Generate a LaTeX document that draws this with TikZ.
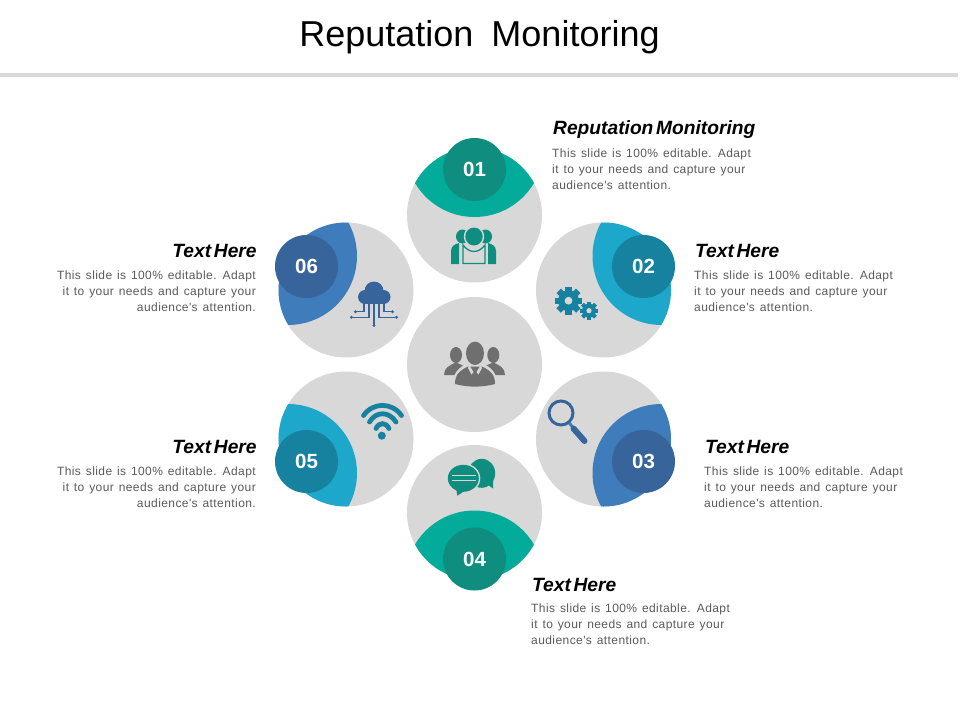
\documentclass[tikz,border=0pt]{standalone}
\usepackage{fontspec}
\setmainfont{Liberation Sans}
\newfontfamily\bodyface[LetterSpace=3.5,WordSpace=1.3]{Liberation Sans}
\newfontfamily\headface[WordSpace=0.5]{Liberation Sans}
\definecolor{gr}{HTML}{D9D8D8}
\definecolor{tealL}{HTML}{03AC9A}
\definecolor{tealN}{HTML}{0F8E80}
\definecolor{cyanL}{HTML}{1CA7CB}
\definecolor{cyanN}{HTML}{17829F}
\definecolor{blueL}{HTML}{3F7CBB}
\definecolor{blueN}{HTML}{36649B}
\definecolor{body}{HTML}{5A5A5A}
\definecolor{iconG}{HTML}{6F6F6F}
\tikzset{
 disc/.style={circle,fill=gr,minimum size=135pt,inner sep=0pt,outer sep=0pt},
 num/.style={circle,minimum size=63pt,inner sep=0pt,text=white,font=\fontsize{20.5}{20.5}\selectfont\bfseries},
 head/.style={inner sep=0pt,text=black,font=\headface\fontsize{19.2}{19.2}\selectfont\bfseries\itshape},
 bodyL/.style={inner sep=0pt,align=left,text=body,font=\bodyface\fontsize{12}{16}\selectfont},
 bodyR/.style={inner sep=0pt,align=right,text=body,font=\bodyface\fontsize{12}{16}\selectfont},
}
\newcommand{\lens}[4]{\begin{scope}\clip (#1) circle (67.5);\fill[#4] (#2) circle (#3);\end{scope}}
\begin{document}
\begin{tikzpicture}[x=1pt,y=-1pt]
\useasboundingbox (0,0) rectangle (960,720);
\fill[white] (0,0) rectangle (960,720);
\node[inner sep=0pt,font=\fontsize{36}{36}\selectfont,anchor=base] (title) at (479.5,46.5) {Reputation\hspace{8pt} Monitoring};
\fill[gr] (0,72.8) rectangle (958,76.6);
\node[disc] (c) at (474.5,364.5) {};
\node[disc] (c1) at (474.5,215) {};
\node[disc] (c2) at (603.5,290) {};
\node[disc] (c3) at (603.5,439) {};
\node[disc] (c4) at (474.5,512.5) {};
\node[disc] (c5) at (346,439) {};
\node[disc] (c6) at (346,290) {};
\lens{474.5,215}{474.5,148}{69}{tealL}
\lens{603.5,290}{661.5,256}{69}{cyanL}
\lens{603.5,439}{661.5,473}{69}{blueL}
\lens{474.5,512.5}{474.5,579.5}{69}{tealL}
\lens{346,439}{288,473}{69}{cyanL}
\lens{346,290}{288,256}{69}{blueL}
\node[num,fill=tealN] (n1) at (474.5,169.5) {01};
\node[num,fill=cyanN] (n2) at (643.5,266.5) {02};
\node[num,fill=blueN] (n3) at (643.5,461.5) {03};
\node[num,fill=tealN] (n4) at (474.5,559) {04};
\node[num,fill=cyanN] (n5) at (306.5,461.5) {05};
\node[num,fill=blueN] (n6) at (306.5,266.5) {06};
% icon 01 : team
\fill[tealN] (462.5,236.5) ellipse (6.5 and 7);
\fill[tealN] (485.5,236.5) ellipse (6.5 and 7);
\fill[tealN] (451,264) -- (451,251) .. controls (451,246) and (455,244) .. (459,243) -- (459,264) -- cycle;
\fill[tealN] (496,264) -- (496,251) .. controls (496,246) and (492,244) .. (488,243) -- (488,264) -- cycle;
\fill[gr] (474,236.5) ellipse (10.2 and 10.7);
\fill[tealN] (474,236.5) ellipse (8.7 and 9);
\draw[tealN,line width=1.3pt,fill=gr] (463,263.5) -- (463,245) .. controls (466,249) and (470,251.5) .. (474,251.5) .. controls (478,251.5) and (482,249) .. (485,245) -- (485,263.5) -- cycle;
% icon 02 : gears
\fill[cyanN] (568.5,300.7) circle (10.5);
\foreach \a in {0,45,...,315}{\fill[cyanN,rotate around={\a:(568.5,300.7)}] (565.3,286.8) rectangle (571.7,292);}
\fill[gr] (568.5,300.7) circle (3.9);
\fill[cyanN] (589,310.7) circle (7);
\foreach \a in {0,45,...,315}{\fill[cyanN,rotate around={\a:(589,310.7)}] (587,301.5) rectangle (591,305);}
\fill[gr] (589,310.7) circle (2.6);
% icon 03 : magnifier
\draw[blueN,line width=3pt] (561,413) circle (12);
\draw[blueL,line width=3pt] (569.3,423) -- (574,428.8);
\draw[blueN,line width=6pt,line cap=round] (573.5,428.5) -- (584.5,441);
% icon 04 : chat
\fill[tealN] (481.7,473.3) ellipse (13.5 and 14.5);
\fill[tealN] (484,482) -- (493,488.5) -- (493,478) -- cycle;
\fill[gr] (463.3,478.3) ellipse (17 and 15);
\fill[tealN] (463.3,478.3) ellipse (15.5 and 13.5);
\fill[tealN] (457.3,495.7) -- (456,488) -- (466,490) -- cycle;
\draw[gr,line width=1pt] (451.7,475.7) -- (476,475.7) (451.7,480.7) -- (476,480.7);
% icon 05 : wifi
\begin{scope}[line width=4.8pt,line cap=round]
\draw[cyanN] (363.5,415.5) .. controls (373,402) and (392,402) .. (401.5,415.5);
\draw[cyanN] (369.5,422) .. controls (376,411) and (389,411) .. (396,422);
\draw[cyanN] (376,428.5) .. controls (379,422) and (386,422) .. (389,428.5);
\end{scope}
\fill[cyanN] (381.8,435.7) circle (4);
% icon 06 : cloud
\fill[blueN] (374,291) circle (9.5);
\fill[blueN] (365,297) circle (7);
\fill[blueN] (383.5,297) circle (7);
\fill[blueN] (364,296) rectangle (384,304);
\begin{scope}[line width=1.5pt]
\draw[blueN] (351,317.3) -- (369,317.3) -- (369,303);
\draw[blueN] (355,311.7) -- (364,311.7) -- (364,303);
\draw[blueN] (397,317.3) -- (379,317.3) -- (379,303);
\draw[blueN] (393,311.7) -- (384,311.7) -- (384,303);
\draw[blueN] (374,303) -- (374,326);
\end{scope}
\foreach \p in {(351.5,317.3),(355.5,311.7),(396.5,317.3),(392.5,311.7),(374,325.5)}{\fill[blueN] \p circle (1.6);}
% centre icon
\fill[iconG] (456,355) ellipse (6 and 8);
\fill[iconG] (493.3,355) ellipse (6 and 8);
\fill[iconG] (444,375) .. controls (444,368) and (449,365.5) .. (456,362.5) .. controls (463,365.5) and (470,368) .. (470,375) -- cycle;
\fill[iconG] (505,375) .. controls (505,368) and (500,365.5) .. (493.3,362.5) .. controls (486,365.5) and (479,368) .. (479,375) -- cycle;
\fill[gr] (452.5,387) .. controls (452.5,373) and (458,368) .. (468,363) -- (482,363) .. controls (492,368) and (497.5,373) .. (497.5,387) -- cycle;
\fill[gr] (475,353.3) ellipse (10.5 and 13);
\fill[iconG] (475,353.3) ellipse (9 and 11.7);
\fill[iconG] (455,384) .. controls (455,374) and (460,370.5) .. (468,366.5) -- (482,366.5) .. controls (490,370.5) and (495,374) .. (495,384) .. controls (482,387.5) and (468,387.5) .. (455,384) -- cycle;
\fill[gr] (469.5,365.5) -- (473.5,372) -- (471.5,374.5) -- (468,368) -- cycle;
\fill[gr] (480.5,365.5) -- (476.5,372) -- (478.5,374.5) -- (482,368) -- cycle;
% texts
\node[head,anchor=base west] (h1) at (553,134.5) {Reputation Monitoring};
\node[bodyL,anchor=north west] (t1) at (552,148.7) {This slide is 100\% editable. Adapt\\it to your needs and capture your\\audience's attention.};
\node[head,anchor=base west] (h2) at (695,257) {Text Here};
\node[bodyL,anchor=north west] (t2) at (694,270.5) {This slide is 100\% editable. Adapt\\it to your needs and capture your\\audience's attention.};
\node[head,anchor=base west] (h3) at (705,453) {Text Here};
\node[bodyL,anchor=north west] (t3) at (704,466.5) {This slide is 100\% editable. Adapt\\it to your needs and capture your\\audience's attention.};
\node[head,anchor=base west] (h4) at (532,591) {Text Here};
\node[bodyL,anchor=north west] (t4) at (531,603.5) {This slide is 100\% editable. Adapt\\it to your needs and capture your\\audience's attention.};
\node[head,anchor=base east] (h5) at (256.8,453) {Text Here};
\node[bodyR,anchor=north east] (t5) at (256,466.5) {This slide is 100\% editable. Adapt\\it to your needs and capture your\\audience's attention.};
\node[head,anchor=base east] (h6) at (256.8,257) {Text Here};
\node[bodyR,anchor=north east] (t6) at (256,270.5) {This slide is 100\% editable. Adapt\\it to your needs and capture your\\audience's attention.};
\end{tikzpicture}
\end{document}
